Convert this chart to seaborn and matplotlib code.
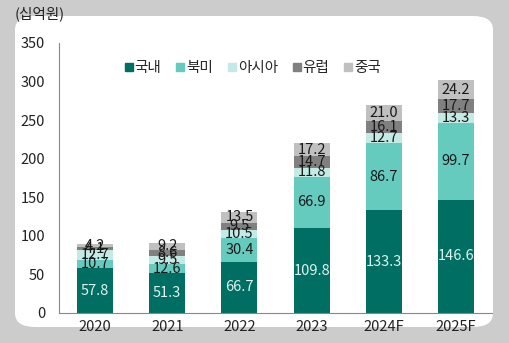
import matplotlib
matplotlib.use("Agg")
import matplotlib.pyplot as plt
from matplotlib.patches import FancyBboxPatch
from matplotlib.lines import Line2D
import seaborn as sns
import numpy as np
import pandas as pd

years = ["2020", "2021", "2022", "2023", "2024F", "2025F"]
series_names = ["국내", "북미", "아시아", "유럽", "중국"]
domestic = [57.8, 51.3, 66.7, 109.8, 133.3, 146.6]
north_america = [10.7, 12.6, 30.4, 66.9, 86.7, 99.7]
asia = [12.7, 9.5, 10.5, 11.8, 12.7, 13.3]
europe = [4.1, 8.6, 9.5, 14.7, 16.1, 17.7]
china = [4.2, 9.2, 13.5, 17.2, 21.0, 24.2]
yticks = [0, 50, 100, 150, 200, 250, 300, 350]

colors = ["#006E62", "#66CBBF", "#C3EAE4", "#808080", "#C0C0C0"]
label_colors = ["#DDF3EF", "#1a1a1a", "#1a1a1a", "#1a1a1a", "#1a1a1a"]

sns.set_style("white")
plt.rcParams['font.family'] = ['Noto Sans CJK KR', 'DejaVu Sans']

series = [domestic, north_america, asia, europe, china]
df = pd.DataFrame({"year": years})
for name, vals in zip(series_names, series):
    df[name] = vals
cum = df[series_names].cumsum(axis=1)

fig = plt.figure(figsize=(5.09, 3.43), dpi=100, facecolor="#CCCCCC")
panel = FancyBboxPatch((15/509, 1 - 327/343), (493-15)/509, (327-16)/343,
                       boxstyle="round,pad=0,rounding_size=0.04",
                       transform=fig.transFigure, facecolor="white",
                       edgecolor="none", zorder=-10)
fig.patches.append(panel)

ax = fig.add_axes([59/509, 1 - 313/343, (492-59)/509, (313-43)/343])
ax.set_facecolor("none")
ax.set_zorder(2)

for i in reversed(range(len(series_names))):
    sns.barplot(x=df["year"], y=cum[series_names[i]], color=colors[i],
                saturation=1, width=0.5, linewidth=0, ax=ax, order=years)

fs = 10.5
for i, name in enumerate(series_names):
    for j, y in enumerate(years):
        v = df.loc[j, name]
        bottom = cum.loc[j, name] - v
        ax.text(j, bottom + v/2, f"{v:.1f}", ha="center", va="center",
                fontsize=fs, color=label_colors[i])

ax.set_ylim(0, 350)
ax.set_xlim(-0.5, 5.5)
ax.set_yticks(yticks)
ax.set_yticklabels([str(t) for t in yticks], fontsize=fs, color="#222222")
ax.set_xticks(range(len(years)))
ax.set_xticklabels(years, fontsize=fs, color="#222222")
ax.set_xlabel("")
ax.set_ylabel("")
ax.set_xticks(np.arange(-0.5, 6, 1), minor=True)
ax.tick_params(axis="x", which="major", length=0, pad=5)
ax.tick_params(axis="x", which="minor", length=4, color="#888888", direction="out")
ax.tick_params(axis="y", length=4, color="#888888", direction="out", pad=6)
for s in ["top", "right"]:
    ax.spines[s].set_visible(False)
for s in ["left", "bottom"]:
    ax.spines[s].set_color("#888888")
    ax.spines[s].set_linewidth(0.8)

handles = [Line2D([0], [0], marker="s", linestyle="none", markersize=6,
                  markerfacecolor=c, markeredgecolor=c) for c in colors]
leg = fig.legend(handles, series_names, loc="center", bbox_to_anchor=(252/509, 1 - 68/343),
                 ncol=5, frameon=False, fontsize=fs, handletextpad=0.0,
                 columnspacing=0.9, handlelength=0.8)

fig.text(15/509, 1 - 14/343, "(십억원)", fontsize=fs, color="#222222",
         ha="left", va="center")

fig.savefig("out.png", dpi=100, facecolor=fig.get_facecolor())
